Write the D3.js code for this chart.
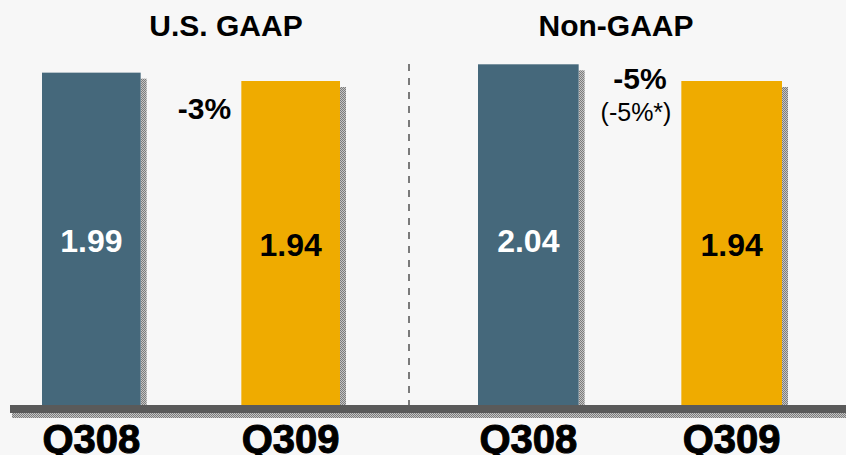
<!DOCTYPE html>
<html>
<head>
<meta charset="utf-8">
<script src="https://cdn.jsdelivr.net/npm/d3@7/dist/d3.min.js"></script>
<style>
  html, body { margin: 0; padding: 0; background: #f7f7f7; }
  svg { display: block; font-family: "Liberation Sans", Arial, sans-serif; }
</style>
</head>
<body>
<svg id="chart" width="846" height="455"></svg>
<script>
// EPS comparison, Q3 2008 vs Q3 2009
const groups = ["U.S. GAAP", "Non-GAAP"];
const quarters = ["Q308", "Q309"];
const gaapValues = [1.99, 1.94];
const nonGaapValues = [2.04, 1.94];
const changeLabels = ["-3%", "-5%"];
const changeSubLabels = ["", "(-5%*)"];

const W = 846, H = 455;
const baseY = 405;
const svg = d3.select("#chart");

const colors = { Q308: "#45687b", Q309: "#efab00" };
const textColors = { Q308: "#ffffff", Q309: "#000000" };

// rows for the bars
const seriesByGroup = [gaapValues, nonGaapValues];
const rows = [];
groups.forEach((g, gi) => {
  quarters.forEach((q, qi) => rows.push({ group: g, gi, quarter: q, value: seriesByGroup[gi][qi] }));
});

// value scale
const y = d3.scaleLinear().domain([0, 2.425]).range([baseY, 0]);

// horizontal layout: each panel has its own band scale
const panelRanges = [[42, 340], [478, 782]];
const inner = panelRanges.map(r => d3.scaleBand().domain(quarters).range(r).paddingInner(0.505).paddingOuter(0));
const bx = d => inner[d.gi](d.quarter);
const bw = d => inner[d.gi].bandwidth();

// checkered shadow texture
const defs = svg.append("defs");
const pat = defs.append("pattern").attr("id", "checks")
  .attr("width", 2).attr("height", 2).attr("patternUnits", "userSpaceOnUse");
pat.append("rect").attr("width", 2).attr("height", 2).attr("fill", "#c4c4c4");
pat.append("rect").attr("width", 1).attr("height", 1).attr("fill", "#7d7d7d");
pat.append("rect").attr("x", 1).attr("y", 1).attr("width", 1).attr("height", 1).attr("fill", "#7d7d7d");

svg.append("rect").attr("width", W).attr("height", H).attr("fill", "#f7f7f7");

// dashed divider between panels
const divX = (panelRanges[0][1] + panelRanges[1][0]) / 2;
svg.append("line")
  .attr("x1", divX).attr("x2", divX)
  .attr("y1", 64).attr("y2", baseY)
  .attr("stroke", "#7a7a7a").attr("stroke-width", 2)
  .attr("stroke-dasharray", "7,7");

// bar shadows
svg.append("g").selectAll("rect").data(rows).join("rect")
  .attr("x", d => bx(d) + bw(d))
  .attr("y", d => y(d.value) + 6)
  .attr("width", 6)
  .attr("height", d => baseY - y(d.value) - 6)
  .attr("fill", "url(#checks)");

// bars
svg.append("g").selectAll("rect").data(rows).join("rect")
  .attr("x", bx)
  .attr("y", d => y(d.value))
  .attr("width", bw)
  .attr("height", d => baseY - y(d.value))
  .attr("fill", d => colors[d.quarter]);

// value labels inside bars
svg.append("g").selectAll("text").data(rows).join("text")
  .attr("x", d => bx(d) + bw(d) / 2)
  .attr("y", d => d.quarter === "Q308" ? 252 : 256)
  .attr("text-anchor", "middle")
  .attr("font-size", 32).attr("font-weight", "bold")
  .attr("fill", d => textColors[d.quarter])
  .text(d => d3.format(".2f")(d.value));

// base platform
svg.append("rect").attr("x", 10).attr("y", baseY).attr("width", W - 10).attr("height", 8).attr("fill", "#5a5a5a");
svg.append("rect").attr("x", 12).attr("y", baseY + 8).attr("width", W - 12).attr("height", 5).attr("fill", "url(#checks)");

// panel titles
svg.append("g").selectAll("text").data(groups).join("text")
  .attr("x", (d, i) => [226, 616][i])
  .attr("y", 36)
  .attr("text-anchor", "middle")
  .attr("font-size", 30).attr("font-weight", "bold").attr("fill", "#000")
  .text(d => d);

// quarter labels under the bars
svg.append("g").selectAll("text").data(rows).join("text")
  .attr("x", d => bx(d) + bw(d) / 2)
  .attr("y", 453)
  .attr("text-anchor", "middle")
  .attr("font-size", 40).attr("font-weight", "bold").attr("fill", "#000")
  .attr("stroke", "#000").attr("stroke-width", 1)
  .text(d => d.quarter);

// change labels
const chg = svg.append("g");
chg.selectAll("text.main").data(changeLabels).join("text").attr("class", "main")
  .attr("x", (d, i) => [204.5, 640][i])
  .attr("y", (d, i) => [119, 89][i])
  .attr("text-anchor", "middle")
  .attr("font-size", 30).attr("font-weight", "bold").attr("fill", "#000")
  .text(d => d);
chg.selectAll("text.sub").data(changeSubLabels).join("text").attr("class", "sub")
  .attr("x", 636).attr("y", 121)
  .attr("text-anchor", "middle")
  .attr("font-size", 25).attr("fill", "#000")
  .text(d => d);
</script>
</body>
</html>
